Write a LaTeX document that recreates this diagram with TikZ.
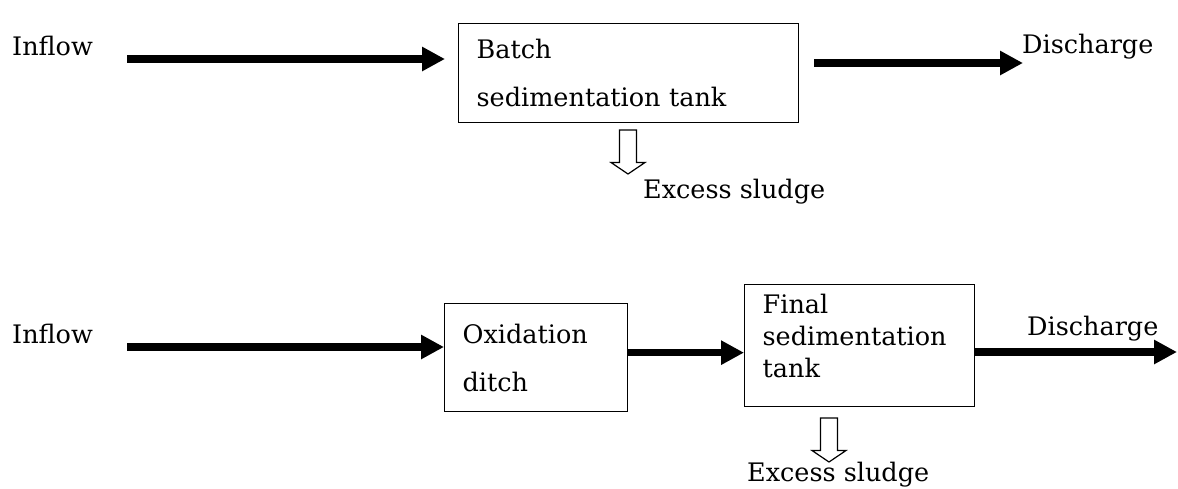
\documentclass[tikz,border=0pt]{standalone}
\usepackage{fontspec}
\setmainfont{DejaVu Serif}
\usetikzlibrary{arrows.meta}
\begin{document}
\begin{tikzpicture}[x=1pt,y=-1pt,
  lbl/.style={font=\fontsize{25.5}{31}\selectfont, inner sep=0pt, anchor=base west},
  tank/.style={draw, line width=1.3pt, anchor=north west, inner xsep=18pt, inner ysep=0pt, align=left},
  flow/.style={line width=7.5pt, -{Triangle[length=23pt,width=23pt]}},
  sludge/.style={draw, line width=1.2pt, fill=white, line join=miter},
  pics/sludgearrow/.style={code={
    \draw[sludge] (-8.5,0) -- (8.5,0) -- (8.5,32.5) -- (17,32.5) -- (0,44)
                  -- (-17,32.5) -- (-8.5,32.5) -- cycle;}}]
\useasboundingbox (0,0) rectangle (1178,488);

% ---- upper process: batch sedimentation ----
\node[lbl] (inflow1) at (12,55) {Inflow};
\node[tank, minimum width=340pt, minimum height=99pt, text width=304pt,
      font=\fontsize{25.5}{48}\selectfont] (batch) at (458,23) {Batch\\sedimentation tank};
\node[lbl] (dis1) at (1022,53) {Discharge};
\node[lbl] (ex1) at (643,198) {Excess sludge};

\coordinate (s1) at (127,59);
\coordinate (e1) at (1023,63);
\draw[flow, shorten >=13pt] (s1) -- (s1 -| batch.west);
\draw[flow, shorten <=15pt] (batch.east |- e1) -- (e1);
\coordinate (d1) at (628,130);
\pic at (d1) {sludgearrow};

% ---- lower process: oxidation ditch + final sedimentation ----
\node[lbl] (inflow2) at (12,343) {Inflow};
\node[tank, minimum width=183pt, minimum height=108pt, text width=147pt,
      font=\fontsize{25.5}{48}\selectfont] (oxid) at (444,303) {Oxidation\\ditch};
\node[tank, minimum width=230pt, minimum height=122pt, text width=194pt,
      font=\fontsize{25.5}{32}\selectfont] (final) at (744,284)
      {Final\\sedimentation\\tank\rule[-20pt]{0pt}{0pt}};
\node[lbl] (dis2) at (1027,335) {Discharge};
\node[lbl] (ex2) at (747,481) {Excess sludge};

\coordinate (s2) at (127,347);
\coordinate (e2) at (1177,352);
\draw[flow] (s2) -- (s2 -| oxid.west);
\draw[flow] ([yshift=5pt]oxid.east) -- ([yshift=5pt]oxid.east -| final.west);
\draw[flow] (final.east |- e2) -- (e2);
\coordinate (d2) at (829,418);
\pic at (d2) {sludgearrow};
\end{tikzpicture}
\end{document}
